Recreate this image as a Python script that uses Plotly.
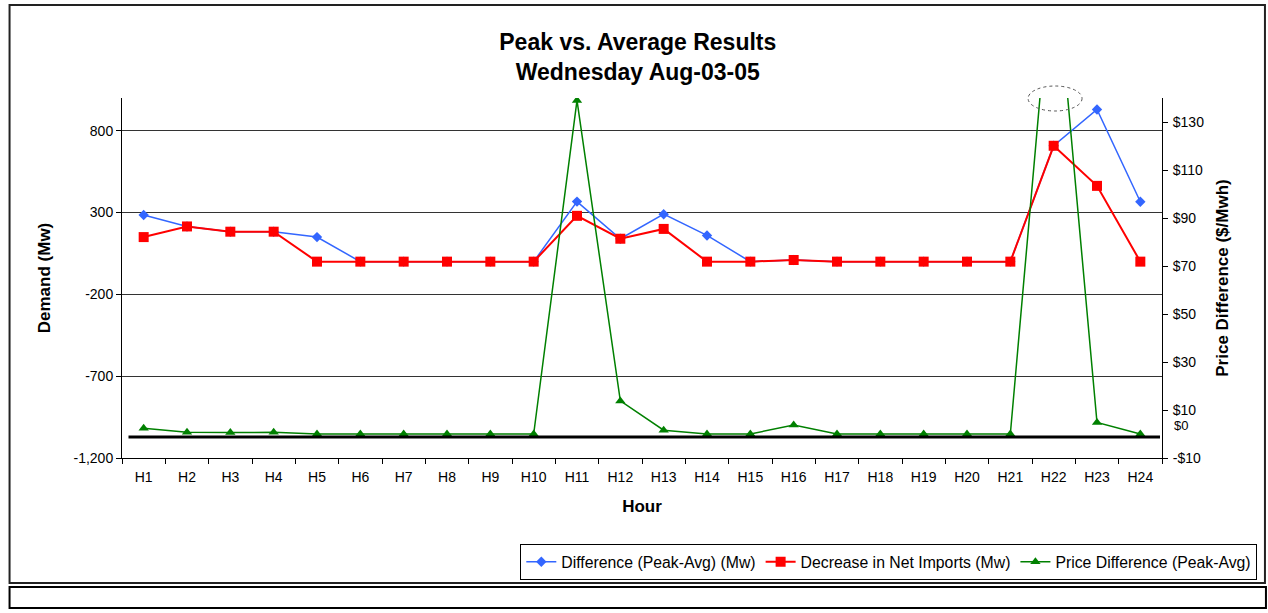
import plotly.graph_objects as go

# hours on the x axis
hours = [f"H{i}" for i in range(1, 25)]

# Mw, left axis
diff_peak_avg = [285, 215, 183, 183, 150, 0, 0, 0, 0, 0, 367, 140,
                 290, 160, 0, 10, 0, 0, 0, 0, 0, 708, 930, 366]
net_imports_decrease = [150, 215, 183, 183, 0, 0, 0, 0, 0, 0, 280, 140,
                        200, 0, 0, 10, 0, 0, 0, 0, 0, 708, 463, 0]
# $/Mwh, right axis (H22 goes off the top of the chart)
price_diff = [2.4, 0.7, 0.6, 0.7, 0, 0, 0, 0, 0, 0, 139, 13.8,
              1.6, 0, 0, 3.7, 0, 0, 0, 0, 0, 205, 4.8, 0]

demand_ticks = [-1200, -700, -200, 300, 800]
demand_labels = ["-1,200", "-700", "-200", "300", "800"]
price_ticks = [-10, 10, 30, 50, 70, 90, 110, 130]
price_labels = ["-$10", "$10", "$30", "$50", "$70", "$90", "$110", "$130"]

FONT = "Liberation Sans, Arial, sans-serif"

W, H = 1268, 613
# plot area in screen pixels
L, R, T, B = 121.5, 1162.0, 98.0, 458.0


def px_x(x):
    return (x - L) / (R - L)


def px_y(y):
    return (B - y) / (B - T)


fig = go.Figure()
fig.add_trace(go.Scatter(
    x=hours, y=diff_peak_avg, name="Difference (Peak-Avg) (Mw)",
    mode="lines+markers", line=dict(color="#3366FF", width=1.5),
    marker=dict(symbol="diamond", size=8, color="#3366FF"),
))
fig.add_trace(go.Scatter(
    x=hours, y=net_imports_decrease, name="Decrease in Net Imports (Mw)",
    mode="lines+markers", line=dict(color="#FF0000", width=2),
    marker=dict(symbol="square", size=10, color="#FF0000"),
))
fig.add_trace(go.Scatter(
    x=hours, y=price_diff, name="Price Difference (Peak-Avg)", yaxis="y2",
    mode="lines+markers", line=dict(color="#008000", width=1.5),
    marker=dict(symbol="triangle-up", size=9, color="#008000"),
))

# zero-price reference line
fig.add_shape(type="line", xref="paper", yref="y2", x0=px_x(128), x1=px_x(1160),
              y0=-1.3, y1=-1.3, line=dict(color="black", width=3))
# dotted ellipse marking the off-scale H22 price
fig.add_shape(type="circle", xref="paper", yref="paper",
              x0=px_x(1028), x1=px_x(1082), y0=px_y(111), y1=px_y(86),
              line=dict(color="#555555", width=1, dash="dot"))
# chart frame and the strip below it
fig.add_shape(type="rect", xref="paper", yref="paper",
              x0=px_x(9), x1=px_x(1265), y0=px_y(583), y1=px_y(5),
              line=dict(color="#222222", width=2), layer="below")
fig.add_shape(type="rect", xref="paper", yref="paper",
              x0=px_x(9), x1=px_x(1266), y0=px_y(608), y1=px_y(587),
              line=dict(color="black", width=2), layer="below")

fig.add_annotation(text="$0", xref="paper", yref="y2", x=px_x(1172), y=0,
                   xanchor="left", yshift=9, showarrow=False,
                   font=dict(family=FONT, size=13, color="black"))

fig.update_layout(
    width=W, height=H, autosize=False,
    margin=dict(l=L, r=W - R, t=T, b=H - B, pad=0, autoexpand=False),
    paper_bgcolor="white", plot_bgcolor="white",
    font=dict(family=FONT, size=14, color="black"),
    title=dict(text="<b>Peak vs. Average Results<br>Wednesday Aug-03-05</b>",
               x=0.503, xanchor="center", y=0.918, yanchor="top",
               font=dict(family=FONT, size=23, color="black")),
    xaxis=dict(
        type="category", range=[-0.5, 23.5], showgrid=False,
        showline=True, linecolor="black", linewidth=1,
        ticks="outside", tickson="boundaries", ticklen=5, tickcolor="black",
        ticklabelstandoff=6,
        title=dict(text="<b>Hour</b>", font=dict(size=17), standoff=16),
    ),
    yaxis=dict(
        range=[-1200, 1000], tickvals=demand_ticks, ticktext=demand_labels,
        showgrid=True, gridcolor="#333333", gridwidth=1, zeroline=False,
        showline=True, linecolor="black", linewidth=1,
        ticks="outside", ticklen=5, tickcolor="black",
        title=dict(text="<b>Demand (Mw)</b>", font=dict(size=17), standoff=18),
    ),
    yaxis2=dict(
        overlaying="y", side="right", range=[-10, 140],
        tickvals=price_ticks, ticktext=price_labels,
        showgrid=False, zeroline=False,
        showline=True, linecolor="black", linewidth=1,
        ticks="outside", ticklen=5, tickcolor="black",
        ticklabelstandoff=2,
        title=dict(text="<b>Price Difference ($/Mwh)</b>", font=dict(size=17), standoff=12),
    ),
    legend=dict(
        orientation="h", x=px_x(520), xanchor="left", y=px_y(544), yanchor="top",
        bordercolor="black", borderwidth=1, bgcolor="white",
        font=dict(family=FONT, size=15.8, color="black"),
        itemwidth=30, tracegroupgap=0,
    ),
)

# drop the default 8px page margin so the figure fills the window exactly
fig.write_html("out.html", config={"displayModeBar": False},
               post_script="document.body.style.margin='0';"
                           "document.body.style.overflow='hidden';")
